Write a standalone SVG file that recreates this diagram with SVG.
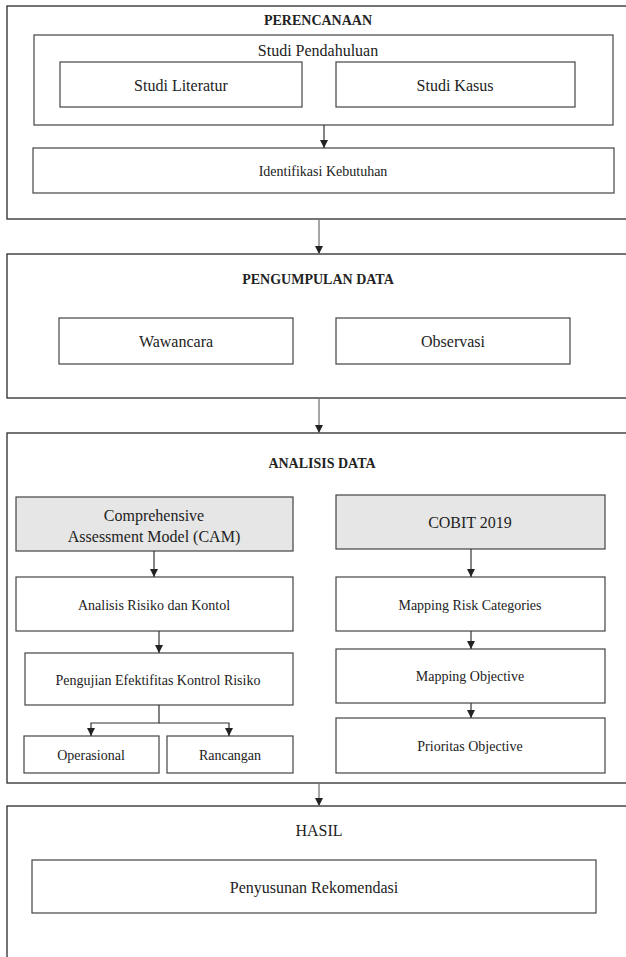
<svg xmlns="http://www.w3.org/2000/svg" width="626" height="957" viewBox="0 0 626 957">
<style>
  .bg{fill:#ffffff}
  .sec{fill:#ffffff;stroke:#2a2a2a;stroke-width:1.3}
  .box{fill:#ffffff;stroke:#444444;stroke-width:1.2}
  .gray{fill:#e6e6e6;stroke:#444444;stroke-width:1.2}
  text{font-family:'Liberation Serif','DejaVu Serif',serif;fill:#222222;text-anchor:middle;dominant-baseline:central}
  .t16{font-size:16px}
  .t14{font-size:14px}
  .hd{font-size:14px;font-weight:bold}
  .con{fill:none;stroke:#333333;stroke-width:1.2}
  .con2{fill:none;stroke:#777777;stroke-width:1.3}
</style>
<defs>
  <marker id="arr" viewBox="0 0 8 8" refX="8" refY="4" markerWidth="8" markerHeight="8" markerUnits="userSpaceOnUse" orient="auto">
    <path d="M0,0 L8,4 L0,8 z" fill="#222222"/>
  </marker>
</defs>
<rect class="bg" x="0" y="0" width="626" height="957"/>

<g font-family="Liberation Serif, DejaVu Serif, serif">
<g id="perencanaan">
  <rect class="sec" x="7" y="6" width="640" height="213"/>
  <text class="hd" x="318" y="20">PERENCANAAN</text>
</g>
<g id="studi-pendahuluan">
  <rect class="box" x="34" y="35" width="579" height="90"/>
  <text class="t16" x="318" y="50">Studi Pendahuluan</text>
</g>
<g id="studi-literatur">
  <rect class="box" x="60" y="62" width="242" height="45"/>
  <text class="t16" x="181" y="85">Studi Literatur</text>
</g>
<g id="studi-kasus">
  <rect class="box" x="336" y="62" width="239" height="45"/>
  <text class="t16" x="455" y="85">Studi Kasus</text>
</g>
<g id="identifikasi">
  <rect class="box" x="33" y="148" width="581" height="45"/>
  <text class="t14" x="323" y="171">Identifikasi Kebutuhan</text>
</g>

<g id="pengumpulan">
  <rect class="sec" x="7" y="254" width="640" height="144"/>
  <text class="hd" x="318" y="279">PENGUMPULAN DATA</text>
</g>
<g id="wawancara">
  <rect class="box" x="59" y="318" width="234" height="46"/>
  <text class="t16" x="176" y="341">Wawancara</text>
</g>
<g id="observasi">
  <rect class="box" x="336" y="318" width="234" height="46"/>
  <text class="t16" x="453" y="341">Observasi</text>
</g>

<g id="analisis-data">
  <rect class="sec" x="7" y="433" width="640" height="350"/>
  <text class="hd" x="322" y="463">ANALISIS DATA</text>
</g>
<g id="cam">
  <rect class="gray" x="16" y="497" width="277" height="54"/>
  <text class="t16" x="154" y="515">Comprehensive</text>
  <text class="t16" x="154" y="536">Assessment Model (CAM)</text>
</g>
<g id="cobit">
  <rect class="gray" x="336" y="495" width="269" height="54"/>
  <text class="t16" x="470" y="522">COBIT 2019</text>
</g>
<g id="analisis-risiko">
  <rect class="box" x="16" y="577" width="277" height="54"/>
  <text class="t14" x="154" y="605">Analisis Risiko dan Kontol</text>
</g>
<g id="mapping-risk">
  <rect class="box" x="336" y="577" width="269" height="54"/>
  <text class="t14" x="470" y="605">Mapping Risk Categories</text>
</g>
<g id="pengujian">
  <rect class="box" x="25" y="653" width="268" height="52"/>
  <text class="t14" x="158" y="680">Pengujian Efektifitas Kontrol Risiko</text>
</g>
<g id="mapping-objective">
  <rect class="box" x="336" y="649" width="269" height="54"/>
  <text class="t14" x="470" y="676">Mapping Objective</text>
</g>
<g id="operasional">
  <rect class="box" x="24" y="736" width="135" height="37"/>
  <text class="t14" x="91" y="755">Operasional</text>
</g>
<g id="rancangan">
  <rect class="box" x="167" y="736" width="126" height="37"/>
  <text class="t14" x="230" y="755">Rancangan</text>
</g>
<g id="prioritas">
  <rect class="box" x="336" y="718" width="269" height="55"/>
  <text class="t14" x="470" y="746">Prioritas Objective</text>
</g>

<g id="hasil">
  <rect class="sec" x="7" y="806" width="640" height="170"/>
  <text class="t16" x="319" y="830">HASIL</text>
</g>
<g id="penyusunan">
  <rect class="box" x="32" y="860" width="564" height="53"/>
  <text class="t16" x="314" y="887">Penyusunan Rekomendasi</text>
</g>
</g>

<g id="connectors">
  <line class="con" x1="324" y1="125" x2="324" y2="148" marker-end="url(#arr)"/>
  <line class="con2" x1="319" y1="219" x2="319" y2="254" marker-end="url(#arr)"/>
  <line class="con2" x1="319" y1="398" x2="319" y2="433" marker-end="url(#arr)"/>
  <line class="con2" x1="319" y1="783" x2="319" y2="806" marker-end="url(#arr)"/>
  <line class="con" x1="154" y1="551" x2="154" y2="577" marker-end="url(#arr)"/>
  <line class="con" x1="159" y1="631" x2="159" y2="653" marker-end="url(#arr)"/>
  <line class="con" x1="471" y1="549" x2="471" y2="577" marker-end="url(#arr)"/>
  <line class="con" x1="471" y1="631" x2="471" y2="649" marker-end="url(#arr)"/>
  <line class="con" x1="471" y1="703" x2="471" y2="718" marker-end="url(#arr)"/>
  <polyline class="con" points="159,705 159,723 91,723 91,736" marker-end="url(#arr)"/>
  <polyline class="con" points="159,723 229,723 229,736" marker-end="url(#arr)"/>
</g>
</svg>
